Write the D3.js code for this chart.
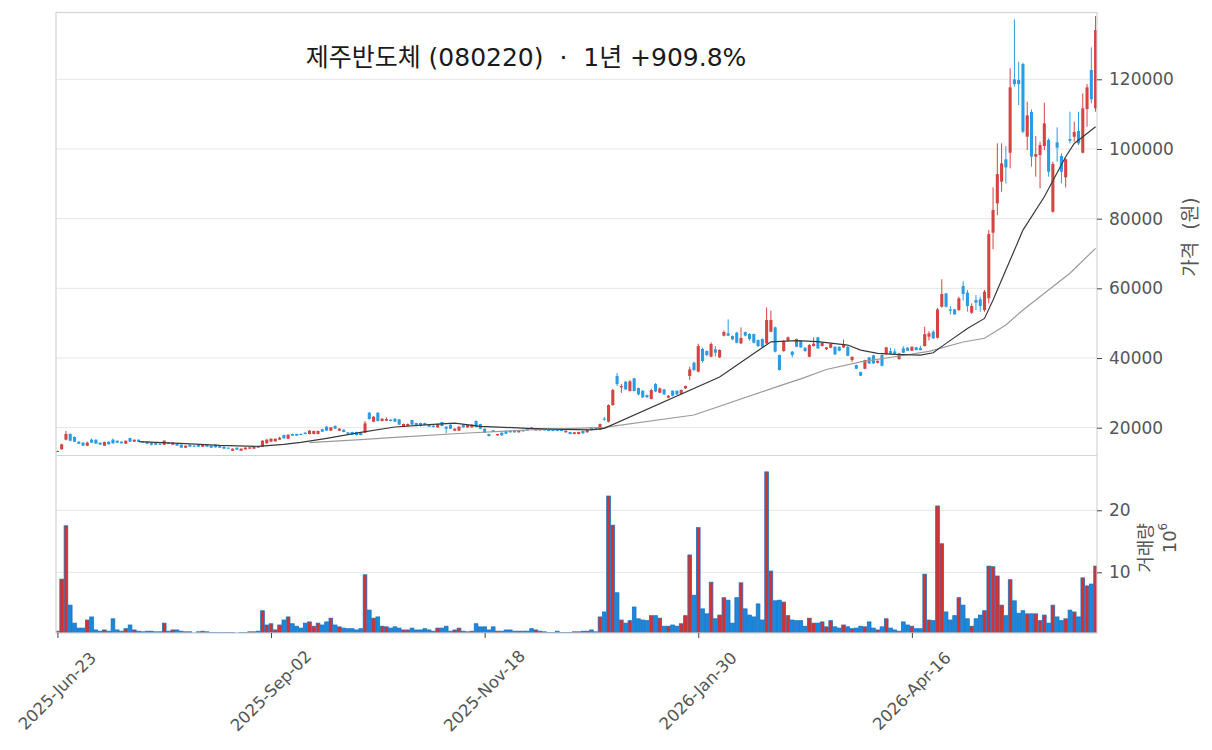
<!DOCTYPE html>
<html>
<head>
<meta charset="utf-8">
<script src="https://cdn.jsdelivr.net/npm/d3@7"></script>
<style>
  body { margin: 0; background: #fff; }
</style>
</head>
<body>
<div id="chart"></div>
<script>
// DATA //

const titleText = "제주반도체 (080220)  ·  1년 +909.8%";

// daily candles (KRW), index 0 = 2025-06-23
const opens = [
  13100,13790,16560,18190,17330,15990,15700,14840,16560,16560,
  15700,14840,15990,16560,16270,15990,15410,17040,15990,16560,
  15990,15990,15700,15700,15410,15130,15700,15130,15410,15130,
  14270,15130,14840,15130,14550,15130,14840,15130,14840,14550,
  14270,13400,14270,13400,13790,13980,13980,14550,14550,15510,
  15990,16080,16560,17900,16850,18190,18190,18190,18570,18190,
  18190,18190,19530,20300,19150,20490,19150,19430,18670,18760,
  18760,18570,18570,24310,21730,24310,21920,22020,22300,22590,
  22400,20300,20490,22210,21350,21350,21350,20870,20580,20100,
  21630,20300,20870,19150,19150,20870,20100,20100,21920,21060,
  19720,18190,19240,17800,18570,19050,19150,19150,18670,19340,
  19620,20100,19240,19240,19620,19340,19340,19340,19340,18670,
  18760,18190,18190,19050,18670,20000,19820,19400,22600,21720,
  26500,34830,31580,33200,30520,34160,31380,30620,29370,28230,
  32530,30050,31000,28610,30620,30620,29760,31290,34830,38660,
  36080,42580,42010,40380,42490,40190,46410,47080,46310,47270,
  44210,47460,46890,46890,45170,45450,44210,47560,48800,40860,
  42010,44970,41820,45450,44960,42950,40370,43430,45920,43430,
  42570,42950,43240,43240,43050,43240,39410,37970,35960,36920,
  40170,40750,38640,40840,41130,41990,41900,39700,42760,42950,
  42090,43050,42850,43430,46110,47540,45820,54720,58550,53950,
  53950,53780,60660,58750,53010,56650,56840,53780,57130,75970,
  84390,90610,97020,98930,119980,119790,124380,103520,110610,97790,
  98260,100850,102570,82000,101900,97980,91850,102860,103520,105150,
  98930,111470,122660,111660
];
const highs = [
  13400,15400,19050,18400,17500,16100,15800,16000,16900,16600,
  15800,16000,16100,16900,16300,16000,16300,17100,16600,16600,
  16000,16000,15800,15800,15500,16400,15800,15800,15500,15200,
  14900,15200,14900,15200,15200,15200,14900,15200,14900,14600,
  14300,14050,14300,14050,14400,14400,14600,14600,16400,16800,
  16900,16900,17400,18000,18100,18300,18300,18400,18700,19300,
  19200,19200,19700,20500,20200,20700,19900,19500,18750,18850,
  18850,18650,21920,24500,23300,24400,22700,23000,22400,22700,
  22500,21200,21200,22300,21450,21450,21450,20950,20650,21200,
  21700,20400,20950,19800,20400,20950,20950,20950,22100,21150,
  19800,18250,19350,18250,18650,19150,19250,19250,19150,19400,
  19700,20200,19700,19700,19700,19400,19400,19400,19400,19200,
  18850,18750,18850,19150,19400,20100,19900,21200,23100,26700,
  31200,35700,32600,33400,33700,34300,31500,30800,29500,31200,
  32800,31500,31100,29400,30700,30700,31000,32100,37500,39000,
  44100,43000,42200,44500,43400,42500,47900,51100,46500,47500,
  48800,47600,47100,47000,45300,45600,54500,53600,49000,41000,
  45200,46200,42000,45600,45100,43100,44000,45900,46100,44500,
  43100,44200,43400,43300,45300,43400,40400,38100,36100,39500,
  40300,40900,39300,41000,43200,42900,42700,41500,43400,43100,
  43300,43200,43500,49000,47700,48000,54400,62600,58700,54900,
  54100,57600,62000,59510,55690,58080,57600,59520,76740,88980,
  101610,101610,100850,123140,137200,125050,124760,113570,111370,103720,
  102090,113280,103050,96350,106200,98740,97310,110700,107830,110700,
  115960,118640,129160,138160
];
const lows = [
  13000,13700,16400,16100,15900,15300,14800,14700,15600,15400,
  15100,14800,15200,15400,15600,15500,15300,15900,15900,15900,
  15650,15350,14900,15000,15000,15000,15300,15000,14800,14200,
  14200,14500,14400,14500,14500,14500,14200,14300,14200,13900,
  13900,13350,13650,13350,13700,13900,13900,14200,14500,15400,
  15900,16000,16500,16900,16800,17700,17700,17850,18100,18100,
  18100,18100,18800,19100,19050,19650,19050,18700,18200,18000,
  17800,17800,18500,22300,21600,21800,21800,21900,21800,21600,
  20800,20200,20400,20800,20400,20400,20700,20200,20100,20000,
  20400,18380,19650,19050,19050,20000,20000,20000,20100,19650,
  18500,17500,18800,17700,17700,18200,18600,18600,18600,18900,
  19200,19650,19200,19200,19200,19000,19000,19000,19000,18600,
  18100,18100,18100,18300,18600,19300,19300,19300,22000,21500,
  26300,32000,30000,30800,30400,30400,29300,28500,28600,28100,
  30200,29900,29400,28500,29000,29400,29600,31100,33700,36300,
  35900,38700,40500,40200,40400,40000,46200,46300,45100,44200,
  44000,46200,45000,44200,43200,43100,44000,47400,41600,36400,
  41800,44800,40200,43100,42900,41800,40200,43300,42600,43300,
  42300,42800,40900,41900,42900,40500,38900,36800,34800,36800,
  38300,38300,38500,37600,41000,41100,41000,39500,41400,42000,
  42000,42200,42200,43300,45000,45500,45600,54500,54500,52500,
  52400,53500,56500,53300,52630,53780,53300,53300,55690,71190,
  81000,87740,90130,94440,117880,112610,104480,99700,94920,92050,
  88700,99700,92050,81710,96350,90130,88980,101610,102090,101130,
  98740,106400,113090,110700
];
const closes = [
  13300,15220,18190,16270,15990,15410,14840,15700,15700,15410,
  15130,15900,15220,15510,15700,15510,16270,15990,16560,15990,
  15700,15410,15130,15130,15130,16270,15320,15700,14840,14270,
  14840,14550,14550,14550,15130,14550,14270,14360,14270,13980,
  13980,13980,13690,13980,14270,14360,14550,14270,16270,16560,
  16850,16850,17140,16950,17990,17710,17710,17900,18190,19150,
  19050,19050,18860,19150,20100,19720,19720,18760,18280,18090,
  17900,17900,21250,22500,23170,21920,22590,22500,21920,21730,
  20870,21060,21060,20870,20490,20490,20770,20300,20200,21060,
  20490,19720,19720,19720,20300,20100,20870,20870,20200,19720,
  18570,17610,18860,18190,17800,18280,18670,18670,19050,18950,
  19240,19720,19620,19620,19240,19050,19050,19050,19050,19150,
  18190,18670,18760,18380,19340,19340,19340,21050,22300,26500,
  30810,32530,31960,31000,33300,30520,29570,28710,28710,30810,
  30430,31290,29570,29180,29180,29570,30810,31960,36740,36550,
  43440,39140,40860,44020,41530,42300,47460,46410,45360,44400,
  45740,46410,45450,44400,43440,43250,50910,50910,41820,36550,
  44780,45930,40860,43250,43050,41990,43720,44100,42760,44390,
  43050,44100,41040,42090,44000,40650,40360,36920,34910,39410,
  38450,38450,39220,37780,43050,41230,41130,41330,41510,42090,
  43240,42280,42280,46870,47060,45630,53950,58360,54720,53570,
  52520,57130,58370,54930,54930,55880,54930,59040,75590,82480,
  92810,95870,94720,117690,118640,118640,104960,109650,97790,98550,
  101130,107350,93480,95680,100370,93480,97020,102380,104860,101610,
  111660,117690,114240,134140
];
// volume, millions of shares
const volumes = [
  0.5,8.9,17.5,4.7,1.8,1.0,1.0,2.3,2.8,0.7,
  0.5,0.7,0.5,2.5,0.7,0.5,0.9,1.5,0.7,0.5,
  0.4,0.5,0.5,0.4,0.4,1.8,0.5,0.7,0.7,0.5,
  0.4,0.4,0.2,0.4,0.5,0.4,0.3,0.3,0.3,0.3,
  0.3,0.3,0.2,0.3,0.3,0.4,0.4,0.5,3.8,1.5,
  1.7,0.7,1.5,2.3,2.8,1.7,1.3,1.0,1.8,2.0,
  1.3,1.8,1.5,2.0,2.6,1.5,1.2,1.0,0.9,0.9,
  0.7,0.9,9.6,3.9,2.6,2.8,1.3,1.2,1.0,1.2,
  1.0,0.7,0.7,1.0,0.7,0.7,0.9,0.7,0.5,1.0,
  1.0,1.3,0.5,0.7,1.0,0.5,0.4,0.5,1.7,1.2,
  1.2,0.7,1.2,0.5,0.5,0.7,0.7,0.5,0.5,0.5,
  0.5,0.9,0.7,0.5,0.4,0.3,0.3,0.5,0.3,0.3,
  0.3,0.4,0.4,0.5,0.5,0.7,0.4,2.8,3.6,22.3,
  17.6,6.7,2.3,1.8,2.2,4.4,2.5,2.3,2.2,3.0,
  3.0,2.6,1.3,1.3,1.5,1.3,1.7,3.0,12.8,6.3,
  17.2,4.1,3.3,8.4,2.5,3.1,5.9,5.5,1.8,5.9,
  8.3,4.1,3.1,2.8,4.9,2.3,26.2,10.2,5.4,5.5,
  5.2,3.0,2.3,2.2,2.2,1.3,2.6,1.8,1.8,2.0,
  1.2,2.2,1.2,1.0,1.5,1.2,0.9,1.0,1.3,1.2,
  2.0,1.0,0.7,1.2,2.5,1.0,0.7,0.5,2.0,1.5,
  1.3,0.9,0.9,9.7,2.3,2.2,20.7,14.6,3.6,2.3,
  3.0,5.9,4.7,2.5,1.3,2.5,3.1,3.8,11.0,10.9,
  9.4,4.7,3.0,8.8,5.4,3.4,3.8,3.3,3.3,3.3,
  2.2,3.1,1.8,4.7,2.8,2.2,2.5,3.9,3.6,2.8,
  9.1,7.8,8.1,11.0
];

// moving averages: [day index, price]
const ma20 = [
  [19,15990],[30,15410],[38,14930],[47,14650],[53,15220],[57,15800],
  [63,16940],[71,18670],[79,20200],[87,20900],[93,21300],[99,20400],
  [110,19830],[118,19500],[125,19400],[128,19830],[155,34550],[167,44650],
  [173,45000],[178,44680],[185,43720],[188,42280],[192,41330],[196,41040],
  [202,40850],[205,41520],[208,44200],[213,48500],[217,51370],[219,56630],
  [222,65240],[226,76720],[231,86290],[236,97770],[238,101600],[243,106380]
];
const ma60 = [
  [59,15700],[71,16600],[80,17300],[95,18400],[110,19340],[128,20110],
  [149,23640],[169,32000],[174,34000],[180,36700],[188,38900],[196,40370],
  [204,41900],[212,44600],[217,45670],[222,49490],[226,53800],[237,64320],
  [243,71490]
];

const priceTicks = [20000, 40000, 60000, 80000, 100000, 120000];
const volumeTicks = [10, 20];
const dateTickIndex = [0, 50, 100, 150, 200];
const dateTickLabels = ["2025-Jun-23", "2025-Sep-02", "2025-Nov-18", "2026-Jan-30", "2026-Apr-16"];

// DIMENSIONS //

const W = 1212, H = 750;
const left = 56, right = 1097;
const priceTop = 12.5, priceBottom = 455.5, volBottom = 633;

const upColor = "#d64343", downColor = "#2b9be3";
const volUp = "#d13333", volDown = "#1a88db", volEdge = "#1c72c4";
const gridColor = "#e6e6e6", frameColor = "#d4d4d4", textColor = "#555";

const svg = d3.select("#chart").append("svg")
  .attr("width", W).attr("height", H)
  .style("font-family", "'DejaVu Sans', 'Noto Sans CJK KR', sans-serif");

// SCALES //

const x = d3.scaleLinear().domain([-0.33, closes.length - 0.67]).range([left, right]);
const y = d3.scaleLinear().domain([20000, 120000]).range([427.7, 79.3]);
const yv = d3.scaleLinear().domain([0, 20]).range([634.3, 510.3]);
const step = x(1) - x(0);

// clip paths
const defs = svg.append("defs");
defs.append("clipPath").attr("id", "clipPrice").append("rect")
  .attr("x", left).attr("y", priceTop).attr("width", right - left).attr("height", priceBottom - priceTop);
defs.append("clipPath").attr("id", "clipVol").append("rect")
  .attr("x", left).attr("y", priceBottom).attr("width", right - left).attr("height", volBottom - priceBottom);

// GRID //

svg.append("g").selectAll("line").data(priceTicks).join("line")
  .attr("x1", left).attr("x2", right)
  .attr("y1", d => y(d)).attr("y2", d => y(d))
  .attr("stroke", gridColor).attr("stroke-width", 1);

svg.append("g").selectAll("line").data(volumeTicks).join("line")
  .attr("x1", left).attr("x2", right)
  .attr("y1", d => yv(d)).attr("y2", d => yv(d))
  .attr("stroke", gridColor).attr("stroke-width", 1);

// CANDLES //

const candles = d3.range(closes.length).map(i => ({
  i, o: opens[i], h: highs[i], l: lows[i], c: closes[i], v: volumes[i], up: closes[i] >= opens[i]
}));

const gPrice = svg.append("g").attr("clip-path", "url(#clipPrice)");

gPrice.selectAll("line.wick").data(candles).join("line")
  .attr("class", "wick")
  .attr("x1", d => x(d.i)).attr("x2", d => x(d.i))
  .attr("y1", d => y(d.h)).attr("y2", d => y(d.l))
  .attr("stroke", d => d.up ? upColor : downColor)
  .attr("stroke-width", 1);

gPrice.selectAll("rect.body").data(candles).join("rect")
  .attr("class", "body")
  .attr("x", d => x(d.i) - step * 0.36)
  .attr("width", step * 0.72)
  .attr("y", d => y(Math.max(d.o, d.c)))
  .attr("height", d => Math.max(1, Math.abs(y(d.o) - y(d.c))))
  .attr("fill", d => d.up ? upColor : downColor);

// moving averages
const maLine = d3.line().x(d => x(d[0])).y(d => y(d[1]));
gPrice.append("path").datum(ma60).attr("d", maLine)
  .attr("fill", "none").attr("stroke", "#9a9a9a").attr("stroke-width", 1.2);
gPrice.append("path").datum(ma20).attr("d", maLine)
  .attr("fill", "none").attr("stroke", "#3a3a3a").attr("stroke-width", 1.2);

// VOLUME //

svg.append("g").attr("clip-path", "url(#clipVol)")
  .selectAll("rect").data(candles).join("rect")
  .attr("x", d => x(d.i) - step * 0.43)
  .attr("width", step * 0.86)
  .attr("y", d => yv(d.v))
  .attr("height", d => yv(0) - yv(d.v))
  .attr("fill", d => d.up ? volUp : volDown)
  .attr("stroke", volEdge).attr("stroke-width", 0.8);

// FRAME //

svg.append("rect")
  .attr("x", left).attr("y", priceTop)
  .attr("width", right - left).attr("height", volBottom - priceTop)
  .attr("fill", "none").attr("stroke", frameColor).attr("stroke-width", 1.2);
svg.append("line")
  .attr("x1", left).attr("x2", right).attr("y1", priceBottom).attr("y2", priceBottom)
  .attr("stroke", frameColor).attr("stroke-width", 1.2);

// AXES //

const priceAxis = svg.append("g")
  .attr("transform", `translate(${right},0)`)
  .call(d3.axisRight(y).tickValues(priceTicks).tickFormat(d3.format("d")).tickSize(5).tickPadding(7));
const volAxis = svg.append("g")
  .attr("transform", `translate(${right},0)`)
  .call(d3.axisRight(yv).tickValues(volumeTicks).tickFormat(d3.format("d")).tickSize(5).tickPadding(7));
const dateAxis = svg.append("g")
  .attr("transform", `translate(0,${volBottom})`)
  .call(d3.axisBottom(x).tickValues(dateTickIndex).tickFormat("").tickSize(5));

[priceAxis, volAxis, dateAxis].forEach(g => {
  g.select(".domain").remove();
  g.selectAll(".tick line").attr("stroke", "#444");
  g.selectAll(".tick text").attr("fill", textColor).style("font-size", "17px")
    .style("font-family", "'DejaVu Sans', sans-serif");
});

// rotated date labels
svg.append("g").selectAll("text").data(dateTickIndex).join("text")
  .attr("transform", d => `translate(${x(d)},${691}) rotate(-45)`)
  .attr("text-anchor", "middle")
  .attr("dominant-baseline", "central")
  .attr("fill", textColor)
  .style("font-size", "16.5px")
  .text((d, k) => dateTickLabels[k]);

// axis labels
svg.append("text")
  .attr("transform", "translate(1190,237) rotate(-90)")
  .attr("text-anchor", "middle").attr("dominant-baseline", "central")
  .attr("fill", textColor).style("font-size", "19px")
  .style("white-space", "pre")
  .text("가격  (원)");

svg.append("text")
  .attr("transform", "translate(1145,548) rotate(-90)")
  .attr("text-anchor", "middle").attr("dominant-baseline", "central")
  .attr("fill", textColor).style("font-size", "18px")
  .text("거래량");

const exp = svg.append("text")
  .attr("transform", "translate(1169,538) rotate(-90)")
  .attr("text-anchor", "middle").attr("dominant-baseline", "central")
  .attr("fill", textColor).style("font-size", "18px");
exp.append("tspan").text("10");
exp.append("tspan").attr("dy", -6).style("font-size", "12px").text("6");

// TITLE //

svg.append("text")
  .attr("x", 526).attr("y", 57)
  .attr("text-anchor", "middle").attr("dominant-baseline", "central")
  .attr("fill", "#1a1a1a")
  .style("font-size", "25px")
  .style("white-space", "pre")
  .text(titleText);
</script>
</body>
</html>
